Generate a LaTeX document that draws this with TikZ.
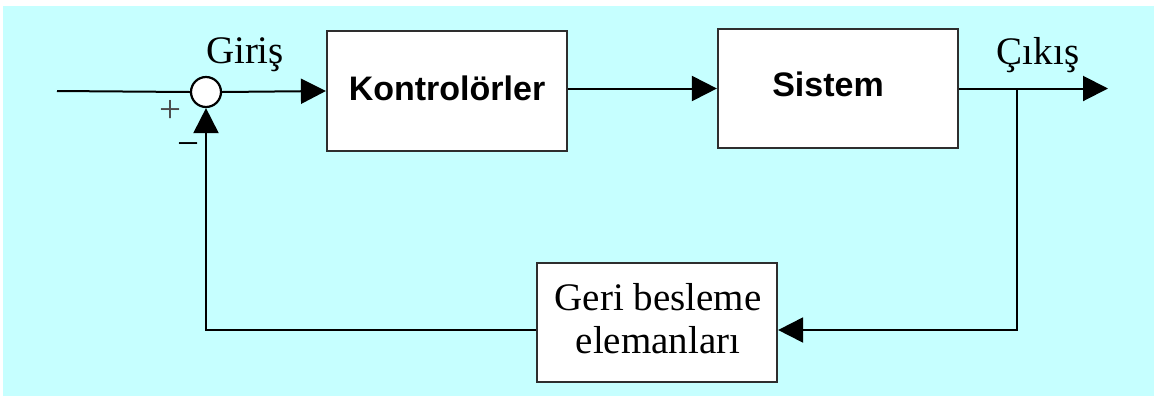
\documentclass[tikz,border=0pt]{standalone}
\usepackage{fontspec}
\setmainfont{Liberation Serif}
\newfontfamily\arialfont{Liberation Sans}
\usetikzlibrary{arrows.meta}
\definecolor{bgcyan}{HTML}{C6FFFF}
\definecolor{edgegray}{HTML}{2E2E2E}
\begin{document}
\begin{tikzpicture}[x=1bp,y=-1bp,
  block/.style={draw=edgegray, line width=2.2bp, fill=white, inner sep=0pt},
  link/.style={draw=black, line width=2bp},
  flow/.style={link, -{Triangle[length=25bp,width=25bp]}},
  serif/.style={font=\fontsize{39bp}{43bp}\selectfont, inner sep=0pt},
  sans/.style={font=\arialfont\bfseries\fontsize{34bp}{40bp}\selectfont, inner sep=0pt}]
  % page and background
  \useasboundingbox (0,0) rectangle (1159,401);
  \fill[white] (0,0) rectangle (1159,401);
  \fill[bgcyan] (3,6) rectangle (1154,396);

  % blocks
  \node[draw=black, line width=2.2bp, fill=white, circle, minimum size=30bp, inner sep=0pt] (sum) at (206,92) {};
  \node[block, minimum width=240bp, minimum height=120bp] (ctrl) at (447,91) {};
  \node[sans] (ctrltext) at (447,88) {Kontrolörler};
  \node[block, minimum width=240bp, minimum height=119bp] (sys) at (838,88.5) {};
  \node[sans] (systext) at (828,84) {Sistem};
  \node[block, minimum width=240bp, minimum height=119bp] (fb) at (657,322.5) {};
  \node[serif, align=center, anchor=base] (fbtext) at (658,353) {Geri besleme\\elemanları};

  % labels
  \node[serif, anchor=base] (giris) at (245,63) {Giriş};
  \node[serif, anchor=base] (cikis) at (1038,64) {Çıkış};
  \node[serif, text=black!70] (plus) at (170,111) {+};
  \node[serif] (minus) at (188,150) {−};

  % signal path
  \coordinate (in) at (57,91);
  \coordinate (out) at (1108,88.5);
  \coordinate (br) at (1017,88.5);
  \draw[link] (in) -- (sum.west);
  \draw[flow] (sum.east) -- (ctrl.west);
  \draw[flow] (ctrl.east |- sys.west) -- (sys.west);
  \draw[flow] (sys.east) -- (out);

  % feedback loop
  \draw[flow] (br) |- ([yshift=-7.5bp]fb.east);
  \draw[flow] ([yshift=-7.5bp]fb.west) -| (sum.south);
\end{tikzpicture}
\end{document}
